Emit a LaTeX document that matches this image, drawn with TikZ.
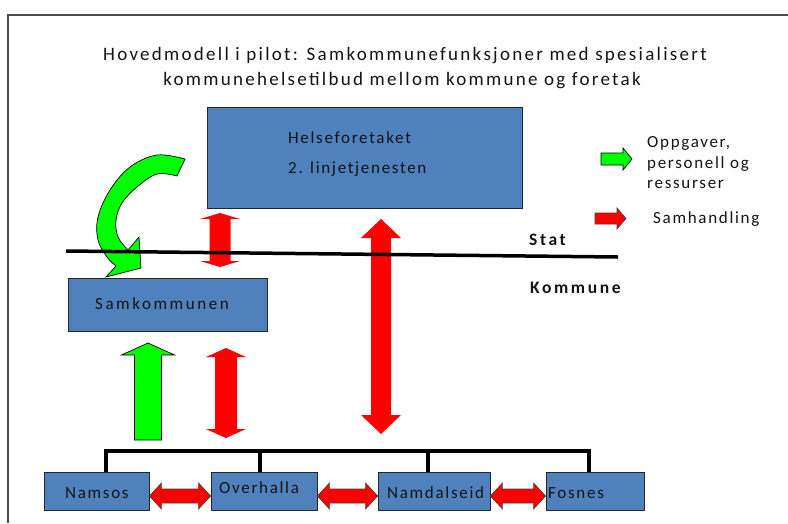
\documentclass[tikz,border=0pt]{standalone}
\usepackage{fontspec}
\setmainfont{Carlito}[LetterSpace=10]
\usetikzlibrary{calc}
\definecolor{boxblue}{HTML}{4F81BD}
\definecolor{grn}{HTML}{00FF00}
\definecolor{rd}{HTML}{FF0000}
\newcommand\vdarrow[6]{% style, top, bottom, headhalf, shafthalf, headlen
  \path[#1] (#2) -- ($(#2)+(#4,#6)$) -- ($(#2)+(#5,#6)$) -- ($(#3)+(#5,-#6)$) -- ($(#3)+(#4,-#6)$) -- (#3)
   -- ($(#3)+(-#4,-#6)$) -- ($(#3)+(-#5,-#6)$) -- ($(#2)+(-#5,#6)$) -- ($(#2)+(-#4,#6)$) -- cycle;}
\newcommand\hdarrow[6]{% style, left, right, headhalf, shafthalf, headlen
  \path[#1] (#2) -- ($(#2)+(#6,-#4)$) -- ($(#2)+(#6,-#5)$) -- ($(#3)+(-#6,-#5)$) -- ($(#3)+(-#6,-#4)$) -- (#3)
   -- ($(#3)+(-#6,#4)$) -- ($(#3)+(-#6,#5)$) -- ($(#2)+(#6,#5)$) -- ($(#2)+(#6,#4)$) -- cycle;}
\newcommand\rarrow[6]{% style, start, tip, headhalf, shafthalf, headlen
  \path[#1] ($(#2)+(0,-#5)$) -- ($(#3)+(-#6,-#5)$) -- ($(#3)+(-#6,-#4)$) -- (#3) -- ($(#3)+(-#6,#4)$)
   -- ($(#3)+(-#6,#5)$) -- ($(#2)+(0,#5)$) -- cycle;}
\begin{document}
\begin{tikzpicture}[x=1pt,y=-1pt,
  box/.style={draw=black!85, line width=0.8pt, fill=boxblue, inner sep=0pt},
  txt/.style={inner sep=0pt, anchor=base west, text=black!92, font=\fontsize{17}{20}\selectfont},
  ttl/.style={inner sep=0pt, anchor=base, text=black!92, font=\fontsize{19}{22}\selectfont\addfontfeatures{LetterSpace=12}},
  bold/.style={txt, font=\fontsize{17.5}{20}\selectfont\bfseries\addfontfeatures{LetterSpace=15}},
  redplain/.style={fill=rd, draw=none},
  redline/.style={fill=rd, draw=black!75, line width=0.6pt},
  greenline/.style={fill=grn, draw=black, line width=0.7pt},
  tree/.style={draw=black, line width=4pt},
  divider/.style={draw=black, line width=3.5pt},
  frame/.style={draw=black!70, line width=2pt}]
\useasboundingbox (0,0) rectangle (788,523);
\fill[white] (0,0) rectangle (788,523);
\draw[frame] (788,15) -- (8,15) -- (8,523);

% title
\node[ttl] (title1) at (405,60) {Hovedmodell i pilot: Samkommunefunksjoner med spesialisert};
\node[ttl] (title2) at (402,85) {kommunehelsetilbud mellom kommune og foretak};

% boxes
\node[box, minimum width=315pt, minimum height=101pt] (hf) at (364.5,157.5) {};
\node[box, minimum width=199pt, minimum height=53pt] (sk) at (167.5,304.5) {};
\node[box, minimum width=105pt, minimum height=38pt] (nam) at (96.5,491) {};
\node[box, minimum width=106pt, minimum height=38pt] (ove) at (264,491) {};
\node[box, minimum width=112pt, minimum height=38pt] (nde) at (434,491) {};
\node[box, minimum width=98pt, minimum height=38pt] (fos) at (595,491) {};

\node[txt] (hft1) at (288,143.5) {Helseforetaket};
\node[txt] (hft2) at (288,173) {2. linjetjenesten};
\node[txt, font=\fontsize{17}{20}\selectfont\addfontfeatures{LetterSpace=15}] (skt) at (95,309) {Samkommunen};
\node[txt] (namt) at (65,498.5) {Namsos};
\node[txt] (ovet) at (219,493.5) {Overhalla};
\node[txt] (ndet) at (387,498.5) {Namdalseid};
\node[txt] (fost) at (548,498.5) {Fosnes};

% tree
\draw[tree] ([xshift=9.5pt]nam.north) -- ++(0,-21) -| ([xshift=-6pt]fos.north);
\draw[tree] ([xshift=-4pt]ove.north) -- ++(0,-21);
\draw[tree] ([xshift=-6pt]nde.north) -- ++(0,-21);

% horizontal red arrows
\coordinate (h1l) at ([yshift=-5pt]nam.east);
\coordinate (h1r) at ([yshift=-5pt]ove.west);
\coordinate (h2l) at ([yshift=-5pt]ove.east);
\coordinate (h2r) at ([yshift=-5pt]nde.west);
\coordinate (h3l) at ([yshift=-5pt]nde.east);
\coordinate (h3r) at ([yshift=-5pt]fos.west);
\hdarrow{redline}{h1l}{h1r}{13}{7}{12}
\hdarrow{redline}{h2l}{h2r}{13}{7}{12}
\hdarrow{redline}{h3l}{h3r}{13}{7}{12}

% vertical red arrows
\coordinate (a1t) at (220,213);
\coordinate (a1b) at (220,267);
\coordinate (a2t) at (381,219);
\coordinate (a2b) at (381,434);
\coordinate (a3t) at (226,348);
\coordinate (a3b) at (226,438);
\vdarrow{redplain}{a1t}{a1b}{20}{10.5}{6}
\vdarrow{redplain}{a2t}{a2b}{20}{10}{19}
\vdarrow{redplain}{a3t}{a3b}{20}{11}{9}

% green up arrow
\coordinate (gt) at (148,343);
\coordinate (gb) at (148,440);
\path[greenline] (gt) -- ($(gt)+(26.5,12)$) -- ($(gt)+(13.5,12)$) -- ($(gb)+(13.5,0)$) -- ($(gb)+(-13.5,0)$)
  -- ($(gt)+(-13.5,12)$) -- ($(gt)+(-26.5,12)$) -- cycle;

% green curved arrow
\path[greenline] plot[smooth, tension=0.6] coordinates {(185,159) (157,155) (130,167) (110,190) (98,217) (98,240) (107,257) (116,266)}
  -- (106,277) -- (141,268) -- (139,237) -- (128,250)
  -- plot[smooth, tension=0.6] coordinates {(128,250) (118,237) (116,220) (122,203) (137,187) (157,174) (177,176)} -- cycle;

% divider
\coordinate (d1) at (66,251);
\coordinate (d2) at (618,257);
\draw[divider] (d1) -- (d2);
\node[bold] (stat) at (529,245) {Stat};
\node[bold] (komm) at (530,293) {Kommune};

% legend
\coordinate (lg1) at (601,159);
\coordinate (lg2) at (632,159);
\rarrow{greenline}{lg1}{lg2}{11}{6}{9}
\coordinate (lr1) at (595,218.5);
\coordinate (lr2) at (626,218.5);
\rarrow{redline}{lr1}{lr2}{10.5}{5.5}{9}
\node[txt] (lt1) at (647,147.5) {Oppgaver,};
\node[txt] (lt2) at (647,168) {personell og};
\node[txt] (lt3) at (647,188) {ressurser};
\node[txt] (lt4) at (653,223) {Samhandling};
\end{tikzpicture}
\end{document}
